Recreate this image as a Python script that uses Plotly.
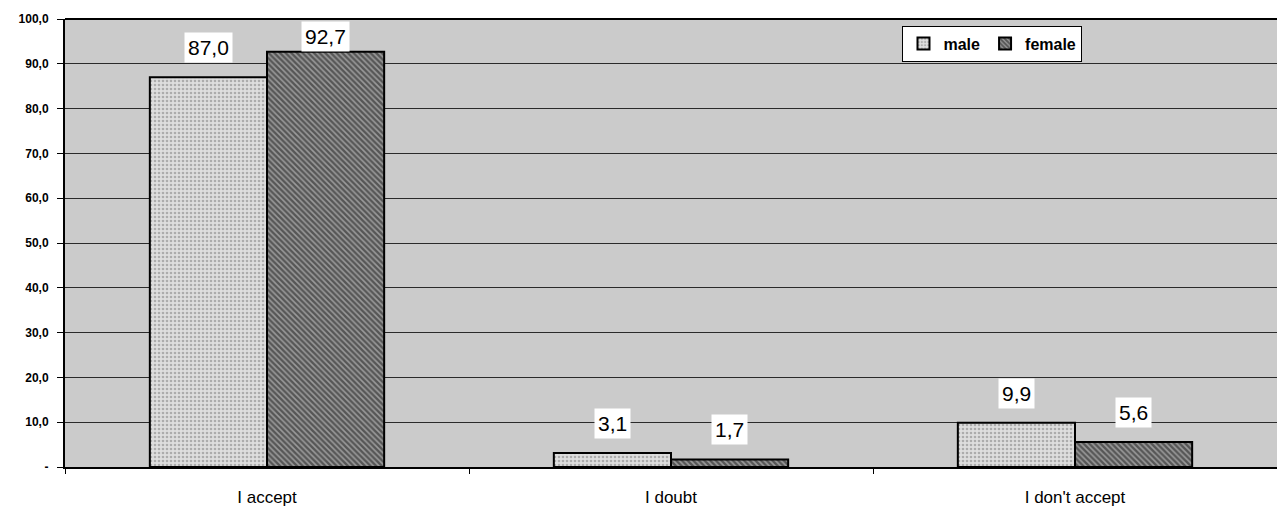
import plotly.graph_objects as go

categories = ["I accept", "I doubt", "I don't accept"]
male = [87.0, 3.1, 9.9]
female = [92.7, 1.7, 5.6]
y_ticks = [0, 10, 20, 30, 40, 50, 60, 70, 80, 90, 100]
y_tick_labels = ["-", "10,0", "20,0", "30,0", "40,0", "50,0", "60,0", "70,0", "80,0", "90,0", "100,0"]

def fmt(v):
    return f"{v:.1f}".replace(".", ",")

fig = go.Figure()
fig.add_trace(go.Bar(
    name="male", x=categories, y=male,
    marker=dict(color="#e0e0e0", line=dict(color="black", width=2),
                pattern=dict(shape=".", fgcolor="#7a7a7a", bgcolor="#dedede", size=4, solidity=0.35)),
))
fig.add_trace(go.Bar(
    name="female", x=categories, y=female,
    marker=dict(color="#555555", line=dict(color="black", width=2),
                pattern=dict(shape="\\", fgcolor="#111111", bgcolor="#9a9a9a", size=4, solidity=0.6)),
))

annotations = []
offsets = [-0.145, 0.145]
for series, off in zip([male, female], offsets):
    for i, v in enumerate(series):
        annotations.append(dict(
            x=i + off, y=min(v, 89.5), xref="x", yref="y",
            text=fmt(v), showarrow=False, yanchor="bottom", yshift=14,
            bgcolor="white", borderpad=3,
            font=dict(family="Arial", size=21, color="black"),
        ))

fig.update_layout(
    width=1277, height=511,
    margin=dict(l=65, r=0, t=19, b=44),
    paper_bgcolor="white", plot_bgcolor="#cbcbcb",
    barmode="group", bargap=0.42, bargroupgap=0,
    showlegend=True,
    legend=dict(orientation="h", x=0.691, y=0.985, xanchor="left", yanchor="top",
                bgcolor="white", bordercolor="black", borderwidth=1,
                font=dict(family="Arial", size=16, color="black", weight="bold"),
                itemwidth=30, tracegroupgap=0),
    annotations=annotations,
    font=dict(family="Arial", color="black"),
)
fig.update_xaxes(
    showline=True, linecolor="black", linewidth=2, mirror=False,
    ticks="outside", tickson="boundaries", ticklen=5, tickcolor="black",
    ticklabelstandoff=14, tickfont=dict(family="Arial", size=17, color="black"),
    showgrid=False,
)
fig.update_yaxes(
    range=[0, 100], tickvals=y_ticks, ticktext=y_tick_labels,
    showline=True, linecolor="black", linewidth=2, mirror=False,
    ticks="outside", ticklen=6, tickcolor="black", ticklabelstandoff=6,
    tickfont=dict(family="Arial", size=12, color="black", weight="bold"),
    showgrid=True, gridcolor="#2a2a2a", gridwidth=1, zeroline=False,
)
fig.add_shape(type="line", xref="paper", yref="paper", x0=0, x1=1, y0=1, y1=1,
              line=dict(color="black", width=2))

fig.write_html("out.html")
